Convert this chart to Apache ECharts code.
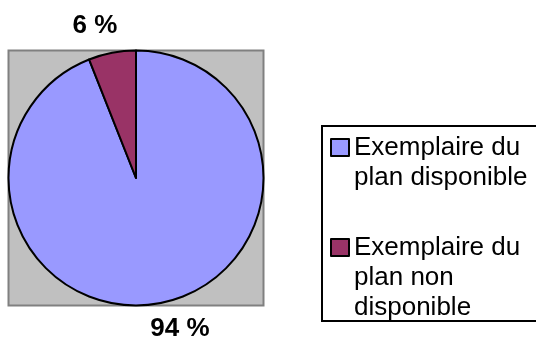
<!DOCTYPE html>
<html>
<head>
<meta charset="utf-8">
<script src="https://cdn.jsdelivr.net/npm/echarts@6/dist/echarts.min.js"></script>
<style>
  html, body { margin: 0; padding: 0; background: #ffffff; }
  #chart { width: 536px; height: 339px; }
</style>
</head>
<body>
<div id="chart"></div>
<script>
// Share of plan copies available vs. not available
const categories = ['Exemplaire du plan disponible', 'Exemplaire du plan non disponible'];
const percentages = [94, 6];
const sliceColors = ['#9999FF', '#993366'];
// number of wrapped lines in each legend entry
const legendLineCounts = [2, 3];

// pie geometry
const cx = 136, cy = 178, r = 127.5;
// label centres relative to the pie centre
const labelOffsets = [[44, r + 23], [-41, -(r + 25)]];

const FONT = '"Liberation Sans", Arial, sans-serif';
const LINE_H = 30;

const chart = echarts.init(document.getElementById('chart'), null, { renderer: 'canvas' });

chart.setOption({
  animation: false,
  backgroundColor: '#ffffff',
  graphic: [
    {
      // grey plot area behind the pie
      type: 'rect',
      z: -10,
      shape: { x: cx - r, y: cy - r, width: 2 * r, height: 2 * r },
      style: { fill: '#C0C0C0', stroke: '#808080', lineWidth: 2 }
    },
    {
      // legend frame
      type: 'rect',
      z: -10,
      shape: { x: 322, y: 126, width: 222, height: 195 },
      style: { fill: 'none', stroke: '#000000', lineWidth: 2 }
    }
  ],
  legend: {
    orient: 'vertical',
    left: 330,
    top: 102.5,
    height: 400,
    padding: 0,
    itemWidth: 18,
    itemHeight: 17,
    itemGap: -20,
    icon: 'rect',
    selectedMode: false,
    itemStyle: { borderColor: '#000000', borderWidth: 2 },
    // leading blank lines keep the icon level with the first text line
    formatter: function (name) {
      const n = legendLineCounts[categories.indexOf(name)];
      return '\n'.repeat(n - 1) + name;
    },
    textStyle: {
      fontFamily: FONT,
      fontSize: 26,
      color: '#000000',
      lineHeight: LINE_H,
      width: 180,
      overflow: 'break'
    },
    data: categories
  },
  series: [
    {
      type: 'pie',
      center: [cx, cy],
      radius: r,
      startAngle: 90,
      clockwise: true,
      silent: true,
      itemStyle: { borderColor: '#000000', borderWidth: 2 },
      label: {
        show: true,
        position: 'outside',
        formatter: '{c} %',
        fontFamily: FONT,
        fontSize: 26,
        fontWeight: 'bold',
        color: '#000000'
      },
      labelLine: { show: false },
      labelLayout: function (p) {
        const o = labelOffsets[p.dataIndex];
        return { x: cx + o[0], y: cy + o[1], align: 'center', verticalAlign: 'middle' };
      },
      data: categories.map((name, i) => ({
        name: name,
        value: percentages[i],
        itemStyle: { color: sliceColors[i] }
      }))
    }
  ]
});
</script>
</body>
</html>
